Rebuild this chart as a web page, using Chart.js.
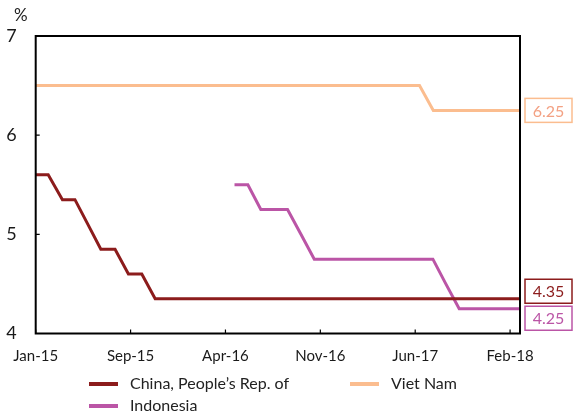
<!DOCTYPE html>
<html>
<head>
<meta charset="utf-8">
<script src="https://cdn.jsdelivr.net/npm/chart.js@4/dist/chart.umd.min.js"></script>
<style>
  body { margin: 0; background: #fff; font-family: Lato, "Open Sans", sans-serif; }
  #wrap { position: relative; width: 574px; height: 415px; }
  #unit { position: absolute; left: 14px; top: 4px; font-size: 17px; color: #222; }
  .leg { position: absolute; font-size: 16px; color: #222; white-space: nowrap; }
  .leg i { position: absolute; width: 29px; height: 4px; top: 8px; left: 0; }
  .leg span { position: absolute; left: 41px; top: 0; line-height: 18px; }
</style>
</head>
<body>
<div id="wrap">
  <canvas id="c" width="574" height="415"></canvas>
  <div id="unit">%</div>
  <div id="legend"></div>
</div>
<script>
// x values are days since start of Jan-15
const tickDays = [0, 220, 440, 660, 880, 1100];
const tickLabels = ["Jan-15", "Sep-15", "Apr-16", "Nov-16", "Jun-17", "Feb-18"];
const lastDay = 1123;

const chinaDays = [0, 29, 62, 91, 121, 151, 184, 215, 246, 277, 1123];
const chinaRates = [5.6, 5.6, 5.35, 5.35, 5.1, 4.85, 4.85, 4.6, 4.6, 4.35, 4.35];

const vietDays = [0, 890, 922, 1123];
const vietRates = [6.5, 6.5, 6.25, 6.25];

const indoDays = [461, 492, 522, 584, 615, 646, 921, 951, 982, 1123];
const indoRates = [5.5, 5.5, 5.25, 5.25, 5.0, 4.75, 4.75, 4.5, 4.25, 4.25];

const series = [
    { label: "China, People\u2019s Rep. of", days: chinaDays, rates: chinaRates, color: "#8c1c1c", text: "#8c1c1c" },
    { label: "Indonesia", days: indoDays, rates: indoRates, color: "#bb55a6", text: "#bb55a6" },
    { label: "Viet Nam", days: vietDays, rates: vietRates, color: "#fbbd8f", text: "#f3a183" },
];

const toPoints = (days, rates) => days.map((d, i) => ({ x: d, y: rates[i] }));

// box, inner ticks and end-value labels
const decorations = {
    id: "decorations",
    afterDraw(chart) {
        const { ctx, chartArea: a, scales } = chart;
        ctx.save();
        ctx.strokeStyle = "#000";
        ctx.lineWidth = 2;
        ctx.strokeRect(a.left, a.top, a.right - a.left, a.bottom - a.top);

        ctx.lineWidth = 1.2;
        ctx.beginPath();
        scales.y.ticks.forEach((t) => {
            const y = scales.y.getPixelForValue(t.value);
            ctx.moveTo(a.left, y);
            ctx.lineTo(a.left + 4, y);
        });
        tickDays.forEach((d) => {
            const x = scales.x.getPixelForValue(d);
            ctx.moveTo(x, a.bottom);
            ctx.lineTo(x, a.bottom - 4);
        });
        ctx.stroke();

        // end labels, pushed apart when they collide
        const boxH = 24, boxW = 47, gap = 3;
        const labels = series.map((s) => {
            const v = s.rates[s.rates.length - 1];
            return { s, v, y: scales.y.getPixelForValue(v) };
        }).sort((p, q) => p.y - q.y);
        for (let i = 1; i < labels.length; i++) {
            const prev = labels[i - 1], cur = labels[i];
            if (cur.y - prev.y < boxH + gap) {
                const mid = (cur.y + prev.y) / 2 + 1;
                prev.y = mid - (boxH + gap) / 2;
                cur.y = mid + (boxH + gap) / 2;
            }
        }
        ctx.font = "16px Lato, sans-serif";
        ctx.textAlign = "center";
        ctx.textBaseline = "middle";
        labels.forEach((l) => {
            const x = a.right + 5;
            ctx.fillStyle = "#fff";
            ctx.fillRect(x, l.y - boxH / 2, boxW, boxH);
            ctx.strokeStyle = l.s.color;
            ctx.lineWidth = 1.5;
            ctx.strokeRect(x, l.y - boxH / 2, boxW, boxH);
            ctx.fillStyle = l.s.text;
            ctx.fillText(l.v.toFixed(2), x + boxW / 2, l.y + 1);
        });
        ctx.restore();
    },
};

new Chart(document.getElementById("c"), {
    type: "line",
    data: {
        datasets: series.map((s) => ({
            label: s.label,
            data: toPoints(s.days, s.rates),
            borderColor: s.color,
            borderWidth: 3,
            pointRadius: 0,
            tension: 0,
            fill: false,
        })),
    },
    options: {
        responsive: false,
        animation: false,
        layout: { padding: { top: 36, right: 54, left: 0, bottom: 0 } },
        plugins: { legend: { display: false }, tooltip: { enabled: false } },
        scales: {
            x: {
                type: "linear",
                min: 0,
                max: lastDay,
                afterBuildTicks: (s) => { s.ticks = tickDays.map((v) => ({ value: v })); },
                afterFit: (s) => { s.height = 81.5; },
                grid: { display: false },
                border: { display: false },
                ticks: {
                    autoSkip: false,
                    maxRotation: 0,
                    padding: 6,
                    color: "#1a1a1a",
                    font: { family: "Lato", size: 15 },
                    callback: (v, i) => tickLabels[i],
                },
            },
            y: {
                min: 4,
                max: 7,
                afterFit: (s) => { s.width = 35.7; },
                grid: { display: false },
                border: { display: false },
                ticks: {
                    stepSize: 1,
                    padding: 11,
                    color: "#1a1a1a",
                    font: { family: "Lato", size: 18 },
                },
            },
        },
    },
    plugins: [decorations],
});

// legend in two columns like the original
const legendPos = [
    { left: 89, top: 374 },
    { left: 89, top: 396 },
    { left: 350, top: 374 },
];
const legend = document.getElementById("legend");
series.forEach((s, i) => {
    const d = document.createElement("div");
    d.className = "leg";
    d.style.left = legendPos[i].left + "px";
    d.style.top = legendPos[i].top + "px";
    d.innerHTML = `<i style="background:${s.color}"></i><span>${s.label}</span>`;
    legend.appendChild(d);
});
</script>
</body>
</html>
